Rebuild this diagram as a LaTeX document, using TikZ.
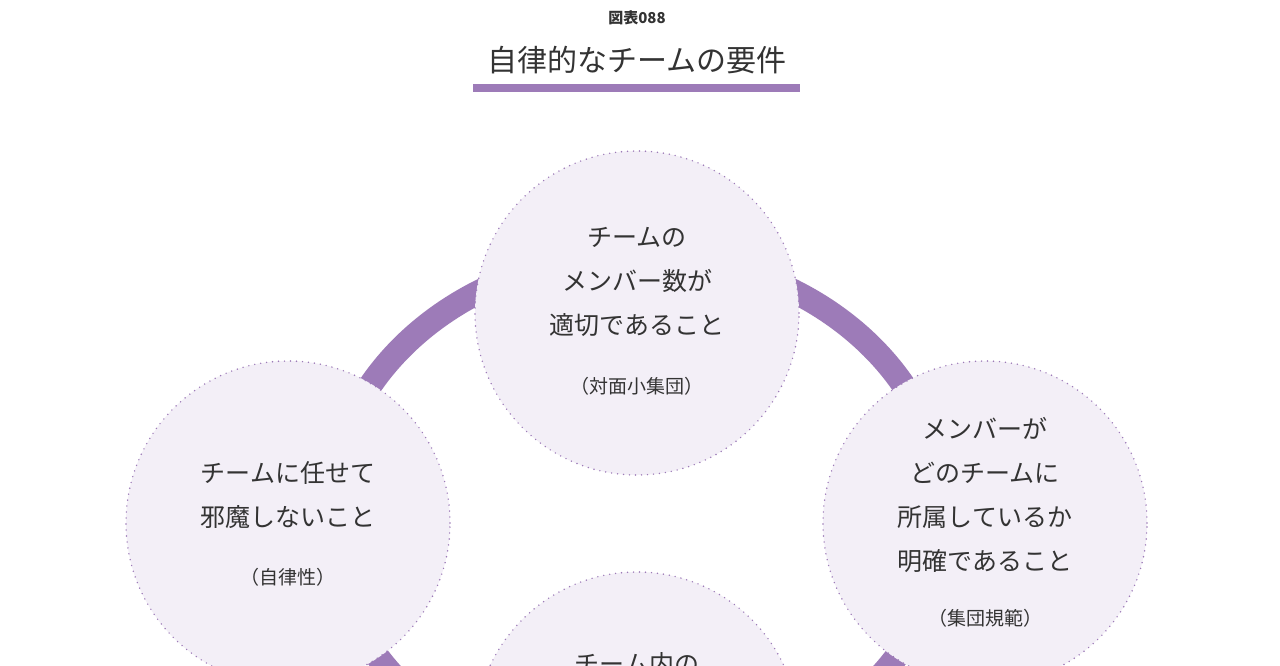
\documentclass[tikz,border=0pt]{standalone}
\usepackage{fontspec}
\setmainfont{Noto Sans CJK JP}
\definecolor{ringc}{HTML}{9D7BB8}
\definecolor{fillc}{HTML}{F3EFF7}
\definecolor{txt}{HTML}{333333}
\begin{document}
\begin{tikzpicture}[x=1pt,y=-1pt,
  bubble/.style={circle,minimum size=324pt,inner sep=0pt,fill=fillc,draw=ringc,line width=1.6pt,dash pattern=on 0pt off 6pt,line cap=round,text=txt,align=center,font=\fontsize{25}{44}\selectfont},
  sub/.style={font=\fontsize{19}{22}\selectfont}]
\useasboundingbox (0,0) rectangle (1280,665);
\clip (0,0) rectangle (1280,665);
\fill[white] (0,0) rectangle (1280,665);
\node[text=txt,font=\bfseries\fontsize{15}{16}\selectfont] (fig) at (637,18) {図表088};
\node[text=txt,font=\fontsize{30}{32}\selectfont] (title) at (637,60) {自律的なチームの要件};
\fill[ringc] (473,84) rectangle (800,92);
\draw[ringc,line width=24pt] (637,516) ellipse [x radius=308, y radius=261];
\node[bubble] (top) at (637,313) {};
\node[bubble] (left) at (288,523) {};
\node[bubble] (right) at (985,523) {};
\node[bubble] (bottom) at (637,734) {};
\node[text=txt,align=center,font=\fontsize{25}{44}\selectfont,anchor=north] (t1) at (637,224) {チームの\\メンバー数が\\適切であること};
\node[text=txt,sub] (t2) at (637,386) {（対面小集団）};
\node[text=txt,align=center,font=\fontsize{25}{44}\selectfont,anchor=north] (l1) at (288,458) {チームに任せて\\邪魔しないこと};
\node[text=txt,sub] (l2) at (288,577) {（自律性）};
\node[text=txt,align=center,font=\fontsize{25}{44}\selectfont,anchor=north] (r1) at (985,414) {メンバーが\\どのチームに\\所属しているか\\明確であること};
\node[text=txt,sub] (r2) at (985,618) {（集団規範）};
\node[text=txt,font=\fontsize{25}{44}\selectfont] (b1) at (637,664) {チーム内の};
\end{tikzpicture}
\end{document}
